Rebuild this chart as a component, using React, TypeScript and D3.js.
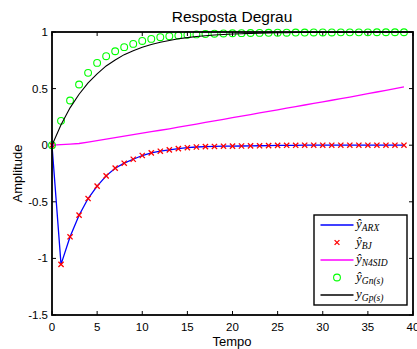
import React from "react";
import * as d3 from "d3";

const title = "Resposta Degrau";
const xLabel = "Tempo";
const yLabel = "Amplitude";
const xTicks = [0, 5, 10, 15, 20, 25, 30, 35, 40];
const yTicks = [1, 0.5, 0, -0.5, -1, -1.5];
const yTickLabels = ["1", "0.5", "0", "-0.5", "-1", "-1.5"];

// discrete sample times 0..39
const tDisc = Array.from({ length: 40 }, (_, i) => i);

const arx = [
  0, -1.053, -0.809, -0.618, -0.471, -0.362, -0.271, -0.203, -0.159, -0.124,
  -0.091, -0.068, -0.053, -0.041, -0.03, -0.022, -0.016, -0.013, -0.011, -0.009,
  -0.008, -0.007, -0.006, -0.005, -0.004, -0.002, -0.001, -0.001, 0, 0,
  0, 0, 0, 0, 0, 0, 0, 0, 0, 0,
];
const bj = [
  0, -1.053, -0.809, -0.618, -0.471, -0.362, -0.271, -0.203, -0.159, -0.124,
  -0.091, -0.068, -0.053, -0.041, -0.03, -0.022, -0.016, -0.013, -0.011, -0.009,
  -0.008, -0.007, -0.006, -0.005, -0.004, -0.002, -0.001, -0.001, 0, 0,
  0, 0, 0, 0, 0, 0, 0, 0, 0, 0,
];
const n4sid = [
  0, 0.005, 0.01, 0.015, 0.028, 0.041, 0.054, 0.067, 0.08, 0.093,
  0.106, 0.119, 0.132, 0.145, 0.159, 0.173, 0.187, 0.201, 0.215, 0.229,
  0.243, 0.257, 0.271, 0.285, 0.299, 0.313, 0.327, 0.341, 0.355, 0.369,
  0.383, 0.397, 0.411, 0.425, 0.44, 0.455, 0.47, 0.485, 0.5, 0.515,
];
const gn = [
  0, 0.215, 0.395, 0.536, 0.639, 0.727, 0.786, 0.83, 0.866, 0.895,
  0.921, 0.939, 0.954, 0.963, 0.969, 0.975, 0.979, 0.982, 0.985, 0.987,
  0.989, 0.99, 0.991, 0.992, 0.993, 0.994, 0.994, 0.995, 0.995, 0.996,
  0.996, 0.996, 0.997, 0.997, 0.997, 0.997, 0.998, 0.998, 0.998, 0.998,
];
// continuous response sampled at t = 0..40
const tCont = Array.from({ length: 41 }, (_, i) => i);
const gp = [
  0, 0.18, 0.33, 0.45, 0.55, 0.63, 0.7, 0.752, 0.8, 0.835,
  0.865, 0.89, 0.91, 0.925, 0.94, 0.95, 0.96, 0.967, 0.973, 0.978,
  0.982, 0.985, 0.988, 0.99, 0.992, 0.993, 0.994, 0.995, 0.996, 0.997,
  0.997, 0.998, 0.998, 0.998, 0.999, 0.999, 0.999, 0.999, 1, 1, 1,
];

const legendItems = [
  { hat: true, sub: "ARX", kind: "line", color: "#0000ff" },
  { hat: true, sub: "BJ", kind: "x", color: "#ff0000" },
  { hat: true, sub: "N4SID", kind: "line", color: "#ff00ff" },
  { hat: true, sub: "Gn(s)", kind: "o", color: "#00ff00" },
  { hat: false, sub: "Gp(s)", kind: "line", color: "#000000" },
];

const W = 417;
const H = 349;
const L = 52, R = 413, T = 32, B = 315;

export default function App() {
  const x = d3.scaleLinear().domain([0, 40]).range([L, R]);
  const y = d3.scaleLinear().domain([-1.5, 1]).range([B, T]);
  const line = d3
    .line<[number, number]>()
    .x((d) => x(d[0]))
    .y((d) => y(d[1]));
  const pairs = (ts: number[], vs: number[]) =>
    ts.map((t, i) => [t, vs[i]] as [number, number]);

  const sans = "'Liberation Sans', Arial, sans-serif";
  const serif = "'Liberation Serif', 'DejaVu Serif', serif";
  const tickLen = 4;

  const lgX = 314, lgY = 215, lgW = 93, lgH = 90;
  const lgRow0 = 225, lgStep = 17.5;

  const xMark = (cx: number, cy: number, s: number, color: string, key: any) => (
    <g key={key} stroke={color} strokeWidth={1.3}>
      <line x1={cx - s} y1={cy - s} x2={cx + s} y2={cy + s} />
      <line x1={cx - s} y1={cy + s} x2={cx + s} y2={cy - s} />
    </g>
  );

  return (
    <svg width={W} height={H} style={{ position: "absolute", left: 0, top: 0, background: "#fff" }}>
      <rect x={0} y={0} width={W} height={H} fill="#fff" />
      <rect x={L} y={T} width={R - L} height={B - T} fill="#fff" />
      {/* ticks */}
      {xTicks.map((t) => (
        <g key={"xt" + t} stroke="#000" strokeWidth={1}>
          <line x1={x(t)} x2={x(t)} y1={B} y2={B - tickLen} />
          <line x1={x(t)} x2={x(t)} y1={T} y2={T + tickLen} />
        </g>
      ))}
      {yTicks.map((v) => (
        <g key={"yt" + v} stroke="#000" strokeWidth={1}>
          <line x1={L} x2={L + tickLen} y1={y(v)} y2={y(v)} />
          <line x1={R} x2={R - tickLen} y1={y(v)} y2={y(v)} />
        </g>
      ))}
      {/* series */}
      <path d={line(pairs(tDisc, arx)) || ""} fill="none" stroke="#0000ff" strokeWidth={1.3} />
      {tDisc.map((t, i) => xMark(x(t), y(bj[i]), 2.6, "#ff0000", "bj" + i))}
      <path d={line(pairs(tDisc, n4sid)) || ""} fill="none" stroke="#ff00ff" strokeWidth={1.3} />
      {tDisc.map((t, i) => (
        <circle key={"gn" + i} cx={x(t)} cy={y(gn[i])} r={3.4} fill="none" stroke="#00ff00" strokeWidth={1.1} />
      ))}
      <path d={line(pairs(tCont, gp)) || ""} fill="none" stroke="#000" strokeWidth={1.1} />
      {/* axes box */}
      <rect x={L} y={T} width={R - L} height={B - T} fill="none" stroke="#000" strokeWidth={1.8} />
      {/* tick labels */}
      {xTicks.map((t) => (
        <text key={"xl" + t} x={x(t)} y={331} fontSize={11.5} fontFamily={sans} textAnchor="middle" fill="#000">
          {t}
        </text>
      ))}
      {yTicks.map((v, i) => (
        <text key={"yl" + v} x={48} y={y(v) + 4} fontSize={11.5} fontFamily={sans} textAnchor="end" fill="#000">
          {yTickLabels[i]}
        </text>
      ))}
      {/* labels */}
      <text x={232} y={22} fontSize={15.5} fontFamily={sans} textAnchor="middle" fill="#000">
        {title}
      </text>
      <text x={232} y={345.5} fontSize={13} fontFamily={sans} textAnchor="middle" fill="#000">
        {xLabel}
      </text>
      <text
        transform={`translate(22,${(T + B) / 2}) rotate(-90)`}
        fontSize={13}
        fontFamily={sans}
        textAnchor="middle"
        fill="#000"
      >
        {yLabel}
      </text>
      {/* legend */}
      <rect x={lgX} y={lgY} width={lgW} height={lgH} fill="#fff" stroke="#000" strokeWidth={1.4} />
      {legendItems.map((it, i) => {
        const cy = lgRow0 + i * lgStep;
        let mark: any = null;
        if (it.kind === "line")
          mark = <line x1={320.5} x2={353.5} y1={cy} y2={cy} stroke={it.color} strokeWidth={1.3} />;
        else if (it.kind === "x") mark = xMark(337, cy, 2.4, it.color, "lgx");
        else mark = <circle cx={337} cy={cy} r={3.4} fill="none" stroke={it.color} strokeWidth={1.1} />;
        return (
          <g key={"lg" + i}>
            {mark}
            <text x={356} y={cy + 3} fontFamily={serif} fontStyle="italic" fill="#000">
              <tspan fontSize={13}>{it.hat ? "\u0177" : "y"}</tspan>
              <tspan fontSize={9.5} dy={3}>
                {it.sub}
              </tspan>
            </text>
          </g>
        );
      })}
    </svg>
  );
}
